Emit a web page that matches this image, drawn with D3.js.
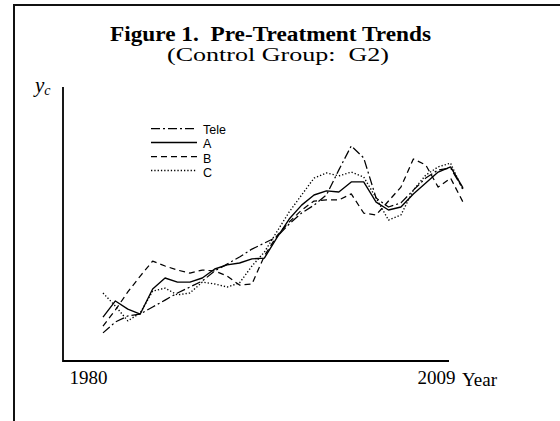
<!DOCTYPE html>
<html><head><meta charset="utf-8">
<script src="https://cdn.jsdelivr.net/npm/d3@7"></script>
<style>body{margin:0;background:#fff}svg{display:block}text{white-space:pre}</style>
</head><body>
<script>
const years = d3.range(1980, 2010);
const tele = [10.3,14.3,16.5,17.2,19.8,22.3,24.9,27.1,29.3,33.0,35.5,38.1,41.0,43.2,45.4,50.2,54.2,57.1,60.8,70.0,78.8,74.4,59.7,56.4,57.9,62.6,67.0,70.0,70.7,63.0];
const seriesA = [16.1,22.0,19.0,17.2,26.4,30.4,28.9,28.9,30.4,33.7,35.2,35.9,37.4,37.7,45.1,52.0,57.1,60.8,62.3,61.9,65.6,65.6,58.2,55.3,56.4,61.2,65.2,69.2,71.1,63.4];
const seriesB = [12.8,18.7,25.3,31.1,36.6,34.8,33.3,32.2,33.3,33.0,31.1,27.8,28.2,38.5,45.8,50.9,55.3,58.6,59.0,59.0,61.2,54.2,53.5,58.6,63.7,74.0,71.8,63.7,67.0,58.2];
const seriesC = [24.9,20.1,14.7,17.6,25.6,26.7,24.2,24.9,28.9,28.2,27.1,28.6,34.8,39.9,47.3,54.6,60.8,67.0,68.9,67.8,69.2,67.4,59.7,51.6,53.5,62.6,68.1,71.1,72.5,62.6];
const seriesNames = ["Tele","A","B","C"];
const xTickLabels = ["1980","2009"];
const title = "Figure 1.  Pre-Treatment Trends";
const subtitle = "(Control Group:  G2)";

const W = 560, H = 421;
const svg = d3.select("body").append("svg").attr("width", W).attr("height", H);

// frame (left and top borders)
svg.append("path").attr("d", "M14,421 L14,5 L560,5").attr("fill","none").attr("stroke","#111").attr("stroke-width",2);

const x = d3.scaleLinear().domain([1980, 2009]).range([103, 463]);
const y = d3.scaleLinear().domain([0, 100]).range([361, 88]);

// axes lines
const axisX0 = 63, axisX1 = 449, axisY0 = 361, axisY1 = 87;
svg.append("path").attr("d", `M${axisX0},${axisY1} L${axisX0},${axisY0} L${axisX1},${axisY0}`)
  .attr("fill","none").attr("stroke","#000").attr("stroke-width",1.8);

// x tick labels via axis
const xLab = d3.scaleLinear().domain([1980, 2009]).range([88, 436]);
const gx = svg.append("g").attr("transform", `translate(0,${axisY0})`)
  .call(d3.axisBottom(xLab).tickValues([1980, 2009]).tickFormat((d,i)=>xTickLabels[i]).tickSize(0).tickPadding(10));
gx.select(".domain").remove();
gx.selectAll("text").attr("font-family","'Liberation Serif', serif").attr("font-size",19).attr("fill","#000");

svg.append("text").attr("x", 462).attr("y", 386).attr("font-family","'Liberation Serif', serif")
  .attr("font-size",19).text("Year");

// titles
svg.append("text").attr("x",110).attr("y",41).attr("font-family","'Liberation Serif', serif")
  .attr("font-weight","bold").attr("font-size",20.5).attr("textLength",321).attr("lengthAdjust","spacingAndGlyphs").text(title);
svg.append("text").attr("x",167).attr("y",61).attr("font-family","'Liberation Serif', serif")
  .attr("font-size",19).attr("textLength",222).attr("lengthAdjust","spacingAndGlyphs").text(subtitle);

// y label
const yl = svg.append("text").attr("x",35).attr("y",92).attr("font-family","'Liberation Serif', serif").attr("font-style","italic");
yl.append("tspan").attr("font-size",21).text("y");
yl.append("tspan").attr("font-size",14).attr("dy",3).text("c");

const styles = [
  {dash:"9,3,2,3", w:1.25},
  {dash:null, w:1.35},
  {dash:"6,4", w:1.25},
  {dash:"1.3,2", w:1.35}
];
const data = [tele, seriesA, seriesB, seriesC];
const line = d3.line().x((d,i)=>x(years[i])).y(d=>y(d));

data.forEach((s, k) => {
  svg.append("path").datum(s).attr("d", line).attr("fill","none").attr("stroke","#000")
    .attr("stroke-width", styles[k].w).attr("stroke-dasharray", styles[k].dash)
    .attr("stroke-linejoin","round");
});

// legend
const legY = [128.5, 142.5, 156.5, 170.5];
const textY = [133.5, 148, 162.5, 177];
seriesNames.forEach((n, k) => {
  svg.append("line").attr("x1",151).attr("x2",197).attr("y1",legY[k]).attr("y2",legY[k])
    .attr("stroke","#000").attr("stroke-width",styles[k].w).attr("stroke-dasharray",styles[k].dash);
  svg.append("text").attr("x",203).attr("y",textY[k]).attr("font-family","'Liberation Sans', Arial, sans-serif")
    .attr("font-size",12.5).text(n);
});
</script>
</body></html>
